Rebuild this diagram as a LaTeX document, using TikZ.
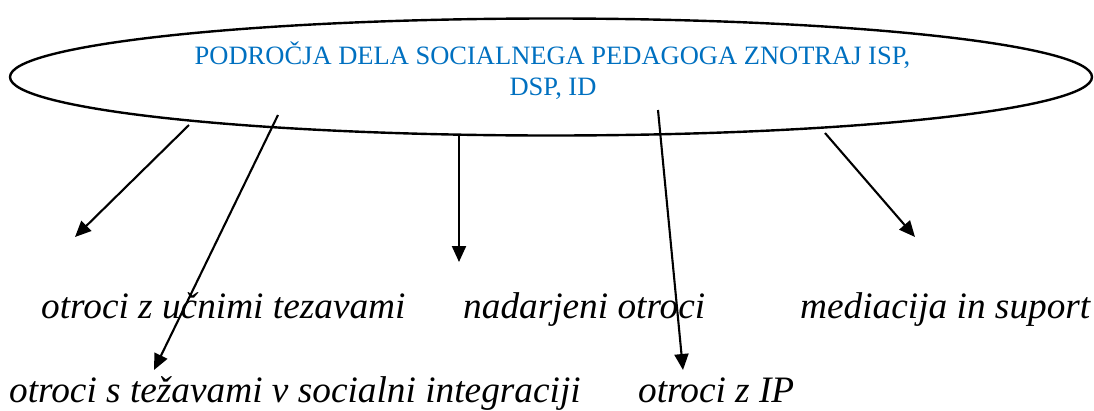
\documentclass[tikz,border=0pt]{standalone}
\usepackage{fontspec}
\setmainfont{Liberation Serif}
\usetikzlibrary{shapes.geometric,arrows.meta}
\definecolor{wblue}{HTML}{0070C0}
\begin{document}
\begin{tikzpicture}[x=1pt,y=-1pt,
  conn/.style={line width=2.1pt,-{Triangle[length=16pt,width=14pt]}},
  lbl/.style={anchor=base west,inner sep=0pt,font=\fontsize{37.3}{42}\selectfont\itshape},
  ttl/.style={anchor=base,inner sep=0pt,text=wblue,font=\fontsize{26.5}{31}\selectfont},
]
\useasboundingbox (0,0) rectangle (1094,410);
\node[draw,line width=2.4pt,ellipse,minimum width=1082pt,minimum height=117pt,inner sep=0pt] (E) at (551,77) {};
\node[ttl] (T1) at (552.5,64) {PODROČJA DELA SOCIALNEGA PEDAGOGA ZNOTRAJ ISP,};
\node[ttl] (T2) at (553,95) {DSP, ID};

\node[lbl] (L1) at (41,318) {otroci z učnimi tezavami};
\node[lbl] (L2) at (463,318) {nadarjeni otroci};
\node[lbl] (L3) at (800,318) {mediacija in suport};
\node[lbl] (L4) at (9,402) {otroci s težavami v socialni integraciji};
\node[lbl] (L5) at (638,402) {otroci z IP};

\coordinate (s1) at (189,125); \coordinate (e1) at (75,237);
\coordinate (s2) at (278,115); \coordinate (e2) at (154,370);
\coordinate (s3) at (459,135); \coordinate (e3) at (459,262);
\coordinate (s4) at (658,110); \coordinate (e4) at (683,370);
\coordinate (s5) at (825,133); \coordinate (e5) at (915,237);

\draw[conn] (s1) -- (e1);
\draw[conn] (s2) -- (e2);
\draw[conn] (s3) -- (e3);
\draw[conn] (s4) -- (e4);
\draw[conn] (s5) -- (e5);
\end{tikzpicture}
\end{document}
